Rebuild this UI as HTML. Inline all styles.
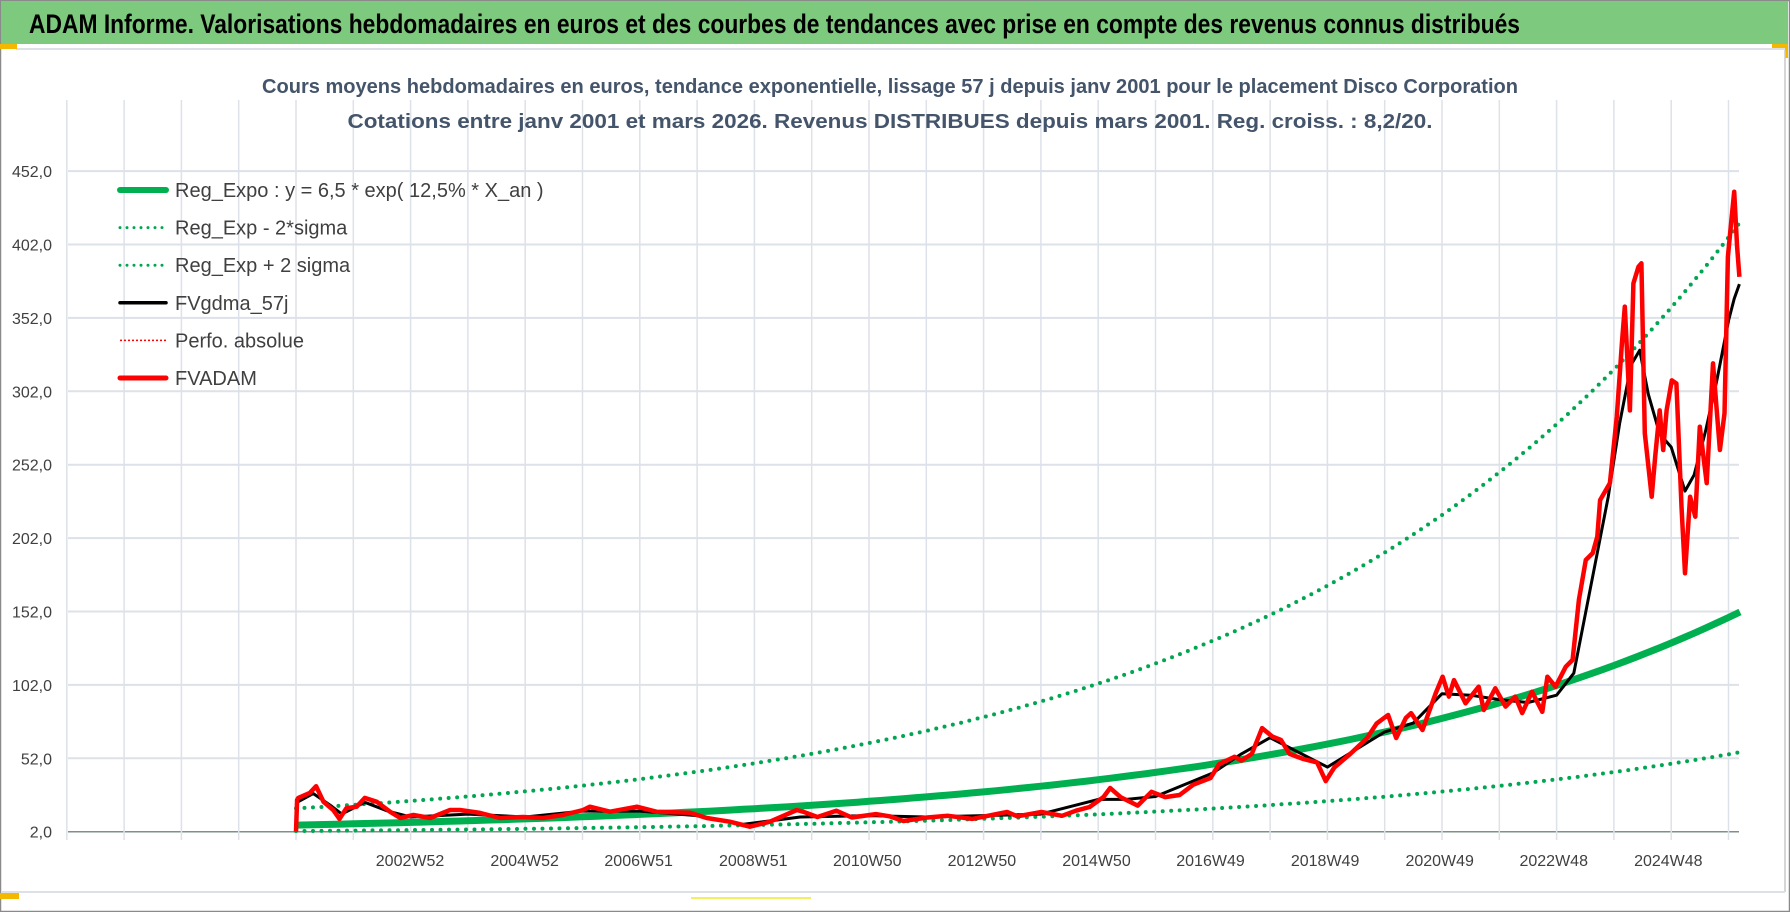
<!DOCTYPE html>
<html><head><meta charset="utf-8"><style>
html,body{margin:0;padding:0;background:#fff;}
svg{display:block;font-family:"Liberation Sans",sans-serif;}
</style></head><body>
<svg id="chart" width="1790" height="912" viewBox="0 0 1790 912" xmlns="http://www.w3.org/2000/svg">
<rect x="0" y="0" width="1790" height="912" fill="#fff"/>
<rect x="0.5" y="0.5" width="1789" height="911" fill="none" stroke="#8a8a8a" stroke-width="1.5"/>
<rect x="1" y="1" width="1787" height="43" fill="#7dc97d"/>
<text x="29" y="33" font-size="27" font-weight="bold" fill="#000" textLength="1491" lengthAdjust="spacingAndGlyphs">ADAM Informe. Valorisations hebdomadaires en euros et des courbes de tendances avec prise en compte des revenus connus distribués</text>
<line x1="16" y1="49" x2="1785" y2="49" stroke="#dde0e6" stroke-width="2"/>
<rect x="0" y="44" width="17" height="5" fill="#f5b800"/>
<rect x="1772" y="44" width="16" height="4" fill="#f5b800"/>
<rect x="1785" y="44" width="3" height="14" fill="#f5b800"/>
<line x1="1785" y1="50" x2="1785" y2="892" stroke="#c8c8c8" stroke-width="1.5"/>
<line x1="2" y1="892" x2="1785" y2="892" stroke="#dde0e6" stroke-width="2"/>
<rect x="0" y="893" width="19" height="6" fill="#f5b800"/>
<line x1="691" y1="898" x2="811" y2="898" stroke="#f0f060" stroke-width="2"/>
<g id="grid"></g>
<g id="titles">
<text x="890" y="93" font-size="20" font-weight="bold" fill="#44546a" text-anchor="middle" textLength="1256" lengthAdjust="spacingAndGlyphs">Cours moyens hebdomadaires en euros, tendance exponentielle, lissage 57 j depuis janv 2001 pour le placement Disco Corporation</text>
<text x="890" y="128" font-size="20" font-weight="bold" fill="#44546a" text-anchor="middle" textLength="1085" lengthAdjust="spacingAndGlyphs">Cotations entre janv 2001 et mars 2026. Revenus DISTRIBUES depuis mars 2001. Reg. croiss. : 8,2/20.</text>
</g>
<g id="yaxis"></g>
<g id="xaxis"></g>
<g id="series"></g>
<g id="legend"></g>
</svg>
<script>
// ---- data ----
const yTicks = [2, 52, 102, 152, 202, 252, 302, 352, 402, 452];
const yTickLabels = ["2,0","52,0","102,0","152,0","202,0","252,0","302,0","352,0","402,0","452,0"];
const xLabels = ["2002W52","2004W52","2006W51","2008W51","2010W50","2012W50","2014W50","2016W49","2018W49","2020W49","2022W48","2024W48"];
const xLabelYears = [1.99,3.99,5.98,7.98,9.97,11.97,13.97,15.96,17.96,19.96,21.95,23.95];
const regA = 6.5;
const regB = 0.125;
const sigmaLow = 0.37;
const sigmaHigh = 2.75;
const regEnd = 25.2;
const redT = [0,0.02,0.04,0.24,0.35,0.48,0.65,0.76,0.88,1.06,1.2,1.41,1.64,1.82,2.05,2.34,2.69,2.86,3.21,3.56,3.96,4.31,4.66,5.01,5.13,5.48,5.95,6.29,6.88,7.17,7.57,7.92,8.27,8.74,8.85,9.1,9.43,9.7,10.12,10.36,10.6,11.02,11.38,11.8,12.41,12.59,13.01,13.37,13.61,13.85,14.09,14.21,14.39,14.69,14.93,15.17,15.42,15.66,15.96,16.11,16.38,16.5,16.68,16.86,17.04,17.19,17.34,17.58,17.82,17.97,18.12,18.4,18.69,18.86,19.06,19.2,19.37,19.46,19.66,19.89,20.01,20.12,20.21,20.41,20.64,20.73,20.93,21.11,21.28,21.4,21.57,21.75,21.84,21.98,22.16,22.28,22.39,22.51,22.63,22.71,22.76,22.93,23.05,23.14,23.19,23.28,23.34,23.43,23.48,23.54,23.66,23.72,23.8,23.86,23.92,24.01,24.09,24.18,24.24,24.33,24.42,24.5,24.62,24.73,24.85,24.93,24.99,25.05,25.1,25.15,25.19];
const redV = [2,23.7,25,28.4,33,22.4,16.8,10.7,18,19,25,22.4,15.6,11.3,13.4,11.3,16.8,16.8,14.8,11.3,12,11.3,13.4,16.8,19,15.6,19,15.6,14.9,11.3,8.8,5.4,8.8,16.8,15.6,12,16.3,11.7,14,12.5,9.3,11.7,12.8,10.7,15.4,12.5,15.4,12.8,16.3,18.8,25.6,31.8,25.6,19.8,29.2,25.6,27,34,38.6,48,53,50.4,55,72.6,66.8,64.5,55,51.5,49.2,36.5,45.7,55,65.6,75.8,81.5,65.8,79.5,82.8,71.3,96.3,107.6,94,105.3,89.5,100.8,84.9,99.7,87.2,94,82.8,97.4,83.7,107.6,100.8,114.4,119,159.9,187.1,191.8,203,227.9,239.5,284.7,334.7,359.7,289,375.5,386.9,389.2,273.4,230.2,257.5,289,262,289,309.4,307.3,223.4,178,230.2,216.6,277.9,239.5,321,262,287,393.7,418.7,438,400.5,380];
const blackT = [0.02,0.3,0.6,0.8,1.2,1.6,2,3,4,5,6,7,7.8,8.8,10,11,12,13,14,14.5,15,16,16.5,17,17.5,18,18.5,19,19.5,20,20.5,21,21.5,22,22.3,22.6,22.9,23.1,23.3,23.45,23.6,23.8,24,24.24,24.4,24.6,24.8,25,25.1,25.19];
const blackV = [22,28,20,14,22,16,12,14,12,16,16,13,7,12,13,12,13,14,24,24,26,42,55,66,56,46,58,70,76,96,95,92,90,95,110,170,230,280,320,330,300,273,264,234,245,275,310,350,365,375];

// ---- axes ----
const X0 = 296, PXY = 57.3, Y0 = 831.7, PXV = 73.4/50;
function xs(t){ return X0 + t*PXY; }
function ys(v){ return Y0 - (v-2)*PXV; }
const NS = "http://www.w3.org/2000/svg";
function mk(tag, attrs, parent){ const e=document.createElementNS(NS,tag); for(const k in attrs) e.setAttribute(k,attrs[k]); parent.appendChild(e); return e; }
const grid = document.getElementById('grid');
for (let i=0;i<yTicks.length;i++){
  const l = mk('line',{x1:68,x2:1739,y1:ys(yTicks[i]),y2:ys(yTicks[i]),stroke: i===0?'#7f8f8a':'#dde1e8','stroke-width':i===0?1.5:2},grid);
  
  
}
for (let k=-4;k<=25;k++){
  const x = xs(k);
  const l = mk('line',{x1:x,x2:x,y1:100,y2:840,stroke:'#dde1e8','stroke-width':1.5},grid);
  
  
}
const yax = document.getElementById('yaxis');
for (let i=0;i<yTicks.length;i++){
  const t = mk('text',{x:52,y:ys(yTicks[i])+6,'font-size':16,fill:'#404040','text-anchor':'end'},yax);
  t.textContent = yTickLabels[i];
  
  
}
const xax = document.getElementById('xaxis');
for (let i=0;i<xLabels.length;i++){
  const t = mk('text',{x:xs(xLabelYears[i]),y:866,'font-size':16,fill:'#404040','text-anchor':'middle'},xax);
  t.textContent = xLabels[i];
  
  
}
// ---- series ----
const ser = document.getElementById('series');
function pathFrom(T,V){ return T.map((t,i)=>(i?'L':'M')+xs(t).toFixed(1)+','+ys(V[i]).toFixed(1)).join(''); }
function regPts(f){ const T=[],V=[]; for(let t=0;t<=regEnd+1e-9;t+=0.2){T.push(t);V.push(regA*Math.exp(regB*t)*f);} return [T,V]; }
let r = regPts(sigmaLow);
const lo = mk('path',{d:pathFrom(r[0],r[1]),fill:'none',stroke:'#00a651','stroke-width':4,'stroke-linecap':'round','stroke-dasharray':'0 8.5'},ser);


r = regPts(sigmaHigh);
const hi = mk('path',{d:pathFrom(r[0],r[1]),fill:'none',stroke:'#00a651','stroke-width':4,'stroke-linecap':'round','stroke-dasharray':'0 8.5'},ser);


r = regPts(1);
const rg = mk('path',{d:pathFrom(r[0],r[1]),fill:'none',stroke:'#00b050','stroke-width':7},ser);


const bl = mk('path',{d:pathFrom(blackT,blackV),fill:'none',stroke:'#000','stroke-width':3,'stroke-linejoin':'round'},ser);


const rd = mk('path',{d:pathFrom(redT,redV),fill:'none',stroke:'#ff0000','stroke-width':4.5,'stroke-linejoin':'round'},ser);


// ---- legend ----
const leg = document.getElementById('legend');
const legItems = [
 ["Reg_Expo : y = 6,5 * exp( 12,5% *  X_an )",'#00b050',6,null],
 ["Reg_Exp - 2*sigma",'#00a651',3,'0 7'],
 ["Reg_Exp + 2 sigma",'#00a651',3,'0 7'],
 ["FVgdma_57j",'#000',3.5,null],
 ["Perfo. absolue",'#ff0000',1.5,'2 2'],
 ["FVADAM",'#ff0000',5,null]];
for (let i=0;i<legItems.length;i++){
  const y = 190 + i*37.6;
  const it = legItems[i];
  const g = mk('g',{},leg);
  
  
  const a = {x1:120,x2:166,y1:y,y2:y,stroke:it[1],'stroke-width':it[2],'stroke-linecap':'round'};
  if (it[3]) { a['stroke-dasharray']=it[3]; if(it[3]==='2 2') a['stroke-linecap']='butt'; }
  mk('line',a,g);
  const t = mk('text',{x:175,y:y+7,'font-size':20,fill:'#404040'},g);
  t.textContent = it[0];
}
</script>
</body></html>
